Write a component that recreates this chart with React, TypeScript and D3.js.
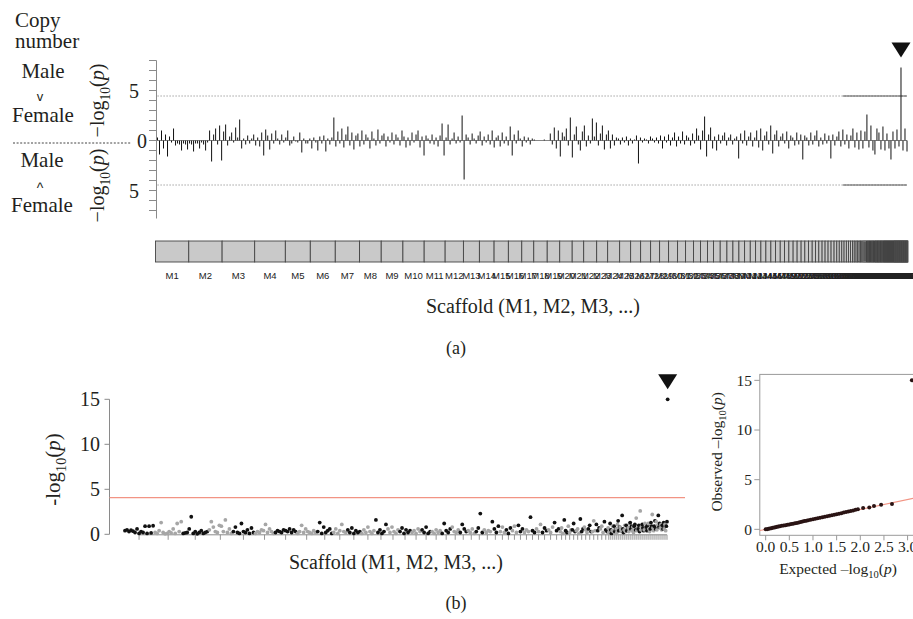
import React from 'react';
import * as d3 from 'd3';

// ---------- Panel (a): copy-number association ----------
const scaffoldLengths: number[] = [
  33.3, 33.4, 32.6, 30.7, 25, 25, 24.3, 21.7, 21.7, 21.3, 21, 18.3, 16, 14.7, 14.3, 13.4,
  12, 13.5, 12.5, 12.5, 11.5, 13, 11, 12, 11, 10, 10, 9, 9, 9, 8, 8, 7, 7, 6,
  6.7, 6.7, 6, 6, 5.7, 5.7, 5.3, 5.3, 5, 5, 4.7, 4.7, 4.3, 4.3, 4.3, 4, 4, 3.7, 3.7, 3.7, 3.3, 3.3, 3.3, 3, 3, 3, 3, 2.7,
  2.5, 2.5, 2.3, 2.3, 2.1, 2, 2, 1.8, 1.8, 1.6, 1.5, 1.4, 1.3, 1.2, 1.1, 1, 1, 0.9,
  0.8, 0.8, 0.8, 0.8, 0.8, 0.8, 0.8, 0.8, 0.8, 0.8,
  0.6, 0.6, 0.6, 0.6, 0.6, 0.6, 0.6, 0.6, 0.6, 0.6, 0.6, 0.6, 0.6, 0.6, 0.6,
  0.5, 0.5, 0.5, 0.5, 0.5, 0.5, 0.5, 0.5, 0.5, 0.5, 0.5, 0.5, 0.5, 0.5, 0.5, 0.5, 0.5, 0.5, 0.5, 0.5,
  0.4, 0.4, 0.4, 0.4, 0.4, 0.4, 0.4, 0.4, 0.4, 0.4, 0.4, 0.4, 0.4, 0.4, 0.4, 0.4, 0.4, 0.4, 0.4, 0.4,
  0.4, 0.4, 0.4, 0.4, 0.4, 0.4, 0.4, 0.4, 0.4, 0.4, 0.4, 0.4, 0.4, 0.4, 0.4,
];

// signed -log10(p): positive = Male > Female, negative = Male < Female
const spikeValues: (number | null)[] = [
  0.3, -1.4, 1.0, -0.8, 0.6, -1.6, 0.4, -0.2, 1.2, -0.5, -0.3, -0.4, -1.0, -0.3, -0.4, -0.9, -0.3, -0.4, -1.1, -0.3, -0.3, -0.8, -0.2, -0.4, -1.0,
  -0.2, 1.0, -2.1, 0.6, 1.2, -0.4, 1.5, -2.0, 0.9, 1.6, -0.5, 0.4, 0.8, -0.2, 1.3, 0.3, 2.1, -0.8, 0.2, -0.4, 0.5, -0.3, 0.2, 0.6, -0.5,
  0.3, -0.6, 0.8, -1.5, 1.1, 0.5, -0.9, 0.7, -0.3, 1.0, 0.2, -0.4, 0.6, -0.2, 0.3, 1.0, -0.5, -0.3, 0.4, -0.1, -0.2, 0.8, -1.2, 0.2, -0.3,
  -0.3, 0.2, -0.8, 0.3, -0.2, -1.0, 0.4, -0.3, 0.5, -1.1, 0.2, -0.4, 0.3, 2.3, -0.6, 0.9, -0.3, 1.2, -0.7, 0.6, 1.4, -0.5, 0.8, -0.9, 0.5,
  0.7, -0.6, 1.0, -0.4, 0.6, 0.3, -0.8, 0.9, 0.2, -0.5, 1.1, -0.3, 0.5, 0.7, -0.6, 0.4, -0.2, 0.8, -0.4, 0.6, 0.3, -0.5, 1.0, 0.4, -0.7,
  0.3, -0.5, 0.8, -0.2, 0.6, 1.0, -0.7, 0.4, -1.5, 0.5, 0.2, -0.3, 0.6, -0.4, 0.3, -0.6, 0.5, 1.7, -1.5, 0.3, 1.6, -0.4, 0.2, 0.8, -0.3,
  0.4, -0.2, 2.5, -3.9, 0.6, 0.3, -0.4, 0.7, 0.2, -0.3, 0.5, 0.9, -0.5, 0.4, -0.2, 0.6, -0.4, 1.0, -0.7, 0.3, 0.5, -0.6, 0.8, -0.3, 0.4,
  -0.5, 1.4, -1.5, 0.6, -0.3, 1.0, 0.2, -0.6, 0.4, -0.2, 0.3, -0.4, 0.2, 0.1, null, null, null, null, 0.1, null, null, 0.7, -0.4, 1.3, -0.8,
  1.0, -1.6, 0.8, 0.4, 1.2, -0.5, 2.3, -1.7, 0.6, 1.4, -0.4, -1.0, 0.9, 1.5, -0.6, 0.5, -0.3, 2.2, 0.4, 1.8, -0.5, 0.7, 1.5, -0.9, 0.6,
  1.0, -0.8, 0.6, -0.5, 0.3, 0.2, -0.4, 0.3, -0.2, 0.4, -0.5, 0.2, -0.3, 0.1, 0.5, -2.3, 0.3, -0.2, 0.2, 0.1, -0.3, 0.4, 0.2, -0.2, 0.3,
  -0.3, 0.5, -0.8, 0.4, -0.2, 0.6, -0.5, 0.3, 0.8, -0.6, 0.4, -0.3, 0.9, -0.4, 0.5, 0.3, -0.5, 0.7, -0.3, 1.2, 0.5, -0.9, 1.0, 2.4, -1.6,
  0.6, 1.3, -0.8, 0.4, -1.0, 0.6, -0.3, 0.5, 0.8, -0.5, 0.3, 0.6, -0.4, 0.2, 0.4, -1.8, 0.7, -0.3, 1.0, -0.5, 0.4, 0.8, -0.6, 0.3, 1.0,
  -0.7, 1.2, -1.0, 0.5, 0.9, -0.4, 1.5, -1.3, 0.6, 1.0, -0.6, 0.4, 0.7, -0.3, 0.9, -0.8, 0.5, 0.3, -0.5, 0.8, -0.4, 0.6, -1.9, 0.5, 0.3,
  -0.5, 0.8, -0.4, 0.5, 1.0, -0.6, 0.3, -0.4, 0.7, -0.3, 0.5, -1.8, 0.6, -0.5, 0.4, 0.9, -0.6, 1.1, -0.4, 0.6, -0.8, 0.5, 1.2, -0.7, 0.8,
  -0.9, 1.0, -0.8, 0.9, 2.6, -0.7, 1.5, -1.0, -1.4, 1.2, 0.8, -0.9, 1.4, -1.0, 0.7, -0.8, -1.9, 0.9, -0.8, 1.1, -0.6, 7.3, -1.0, 1.2, -1.1,
];
const spikeThreshold = 4.45;
const spikeDenseFrom = 342; // index where threshold dots merge into a solid line
const copyTickValues = [-7, -6, -5, -4, -3, -2, -1, 0, 1, 2, 3, 4, 5, 6, 7, 8];
const copyTickLabels = ['5', '0', '5'];
const copyTickLabelValues = [5, 0, -5];

// ---------- Panel (b): Manhattan plot ----------
const bLengths: number[] = [
  15, 14, 13, 12, 11, 10, 11, 10, 8, 7, 7, 7, 6, 6, 6, 5, 5, 5, 5, 4, 4, 4, 4, 4, 4,
  3, 3, 3, 3, 3, 3, 3, 3, 3, 3,
  2, 2, 2, 2, 2, 2, 2, 2, 2, 2, 2, 2,
  1, 1, 1, 1, 1, 1, 1, 1, 1, 1, 1, 1, 1, 1, 1, 1, 1, 1, 1, 1, 1, 1, 1, 1, 1, 1, 1, 1, 1, 1,
];
const bValues: number[][] = [
  [0.4, 0.5, 0.3, 0.45, 0.35, 0.2, 0.6, 0.1, 0.3, 0.2, 0.9, 0.1, 0.9, 0.15, 0.95],
  [0.2, 0.1, 0.4, 1.3, 0.2, 0.05, 0.1, 0.3, 0.15, 0.6, 0.1, 1.2, 0.3, 1.4],
  [0.1, 0.15, 0.2, 0.6, 1.95, 0.1, 0.3, 0.05, 0.2, 0.4, 0.1, 0.2, 0.3],
  [0.5, 1.4, 0.8, 0.3, 0.2, 1.0, 0.9, 0.3, 1.6, 0.2, 0.6, 0.1],
  [0.3, 0.8, 0.2, 0.1, 1.2, 0.3, 0.2, 0.5, 0.1, 0.7, 0.2],
  [0.1, 0.3, 0.2, 0.5, 0.4, 1.1, 0.2, 0.6, 0.3, 0.1],
  [0.2, 0.4, 0.3, 0.2, 0.5, 0.4, 0.3, 0.6, 0.2, 0.5, 0.3],
  [0.1, 0.3, 1.0, 0.2, 0.6, 0.3, 0.2, 0.1, 0.4, 0.2],
  [0.3, 1.3, 0.1, 0.8, 0.2, 0.4, 0.6, 0.1],
  [0.2, 0.6, 0.1, 0.4, 1.1, 0.3, 0.2],
  [0.5, 0.2, 0.7, 0.1, 0.4, 0.2, 0.3],
  [0.1, 0.5, 0.2, 0.8, 0.3, 0.1, 0.4],
  [1.6, 0.2, 0.5, 0.1, 0.3, 1.1],
  [0.6, 0.2, 0.8, 0.3, 0.1, 0.5],
  [0.3, 0.7, 0.1, 0.5, 0.2, 0.4],
  [0.2, 0.4, 0.1, 0.6, 0.3],
  [0.5, 0.2, 0.8, 0.1, 0.3],
  [0.3, 0.1, 0.5, 0.2, 0.4],
  [0.1, 1.2, 0.4, 0.2, 0.6],
  [0.8, 0.3, 0.2, 0.5],
  [0.2, 1.1, 0.6, 0.3],
  [0.4, 0.2, 0.6, 0.1],
  [0.3, 0.7, 2.3, 0.2],
  [0.5, 0.2, 0.4, 0.3],
  [1.4, 0.6, 0.2, 0.9],
  [0.3, 0.8, 0.2], [0.5, 0.1, 0.7], [0.4, 0.9, 0.2], [1.0, 0.3, 0.6], [0.2, 0.5, 0.3],
  [1.9, 0.4, 0.2], [0.6, 0.3, 1.1], [0.2, 0.7, 0.4], [0.5, 0.2, 0.8], [1.3, 0.4, 0.6],
  [0.3, 0.7, 0.1], [1.6, 0.4, 0.2], [0.9, 0.2, 0.5], [0.5, 1.2, 0.3], [0.4, 0.6, 0.1], [1.7, 0.3, 0.6],
  [0.8, 0.5, 0.2], [0.6, 1.0, 0.3], [0.3, 1.5, 0.4], [1.1, 0.4, 0.7], [0.6, 0.9, 0.2], [1.4, 0.5, 0.3],
  [0.7, 0.2, 0.4], [1.2, 0.5, 0.1], [0.4, 0.9, 0.3], [0.9, 0.3, 0.6], [0.6, 0.2, 1.1], [1.5, 0.4, 0.8],
  [0.8, 0.5, 0.3], [2.1, 0.6, 0.2], [0.5, 1.0, 0.3], [1.0, 0.4, 0.7], [0.7, 0.3, 1.2], [1.3, 0.6, 0.9],
  [0.4, 0.8, 0.2], [0.9, 1.1, 0.5], [1.8, 0.4, 0.7], [0.6, 1.0, 0.3], [2.6, 0.5, 0.9], [1.1, 0.7, 0.4],
  [0.5, 1.2, 0.8], [0.8, 0.4, 1.0], [1.2, 0.6, 0.3], [0.6, 1.3, 0.9], [2.2, 0.7, 0.4], [0.9, 1.5, 0.6],
  [1.4, 0.5, 1.0], [2.1, 0.8, 1.2], [0.7, 1.1, 0.5], [1.0, 0.6, 1.3], [0.6, 1.1, 0.4], [0.9, 1.4, 15.0],
];
const bThreshold = 4.07;
const bYTicks = [0, 5, 10, 15];

// ---------- Panel (b) right: QQ plot ----------
const qqExpected = [
  0.00, 0.03, 0.06, 0.09, 0.12, 0.15, 0.18, 0.21, 0.24, 0.27, 0.30, 0.34, 0.38, 0.42, 0.46, 0.50, 0.54, 0.58,
  0.62, 0.66, 0.70, 0.74, 0.78, 0.82, 0.86, 0.90, 0.95, 1.00, 1.05, 1.10, 1.15, 1.20, 1.25, 1.30, 1.35, 1.40,
  1.45, 1.50, 1.55, 1.60, 1.65, 1.70, 1.75, 1.80, 1.85, 1.90, 1.95, 2.06, 2.19, 2.29, 2.44, 2.67, 3.09,
];
const qqObserved = [
  0.00, 0.02, 0.05, 0.09, 0.12, 0.16, 0.19, 0.22, 0.25, 0.28, 0.31, 0.35, 0.38, 0.42, 0.45, 0.49, 0.53, 0.57,
  0.61, 0.65, 0.70, 0.74, 0.78, 0.83, 0.87, 0.91, 0.96, 1.01, 1.06, 1.11, 1.16, 1.21, 1.27, 1.32, 1.37, 1.42,
  1.48, 1.53, 1.58, 1.63, 1.69, 1.74, 1.79, 1.84, 1.90, 1.96, 2.02, 2.14, 2.20, 2.34, 2.47, 2.56, 15.0,
];
const qqXTicks = [0, 0.5, 1, 1.5, 2, 2.5, 3];
const qqYTicks = [0, 5, 10, 15];

const SERIF = "'Liberation Serif', 'DejaVu Serif', serif";
const SANS = "'Liberation Sans', Arial, sans-serif";
const INK = '#231f20';
const RED = '#f29484';

function LogLabel({ x, y, size, prefix, dash }: { x: number; y: number; size: number; prefix?: string; dash: string }) {
  const sub = size * 0.68;
  const shift = size * 0.28;
  return (
    <text transform={`translate(${x},${y}) rotate(-90)`} textAnchor="middle" fontFamily={SERIF} fontSize={size} fill={INK}>
      {prefix ?? ''}{dash}log
      <tspan fontSize={sub} dy={shift}>10</tspan>
      <tspan dy={-shift}>(</tspan>
      <tspan fontStyle="italic">p</tspan>)
    </text>
  );
}

export default function App() {
  const W = 913;
  const H = 619;

  // ----- Panel a scales -----
  const aY = d3.scaleLinear().domain([-7.8, 8]).range([218.5, 60.5]);
  const aX = d3.scaleLinear().domain([0, spikeValues.length - 1]).range([157.5, 907]);
  const aAxisX = 156.5;
  let peakIdx = 0;
  spikeValues.forEach((v, i) => {
    if (v !== null && v > (spikeValues[peakIdx] as number)) peakIdx = i;
  });
  const peakX = aX(peakIdx);
  const peakY = aY(spikeValues[peakIdx] as number);

  const cum = d3.cumsum(scaffoldLengths);
  const total = cum[cum.length - 1];
  const barX = d3.scaleLinear().domain([0, total]).range([155.5, 908]);
  const barTop = 241;
  const barH = 21;
  const scaffolds = scaffoldLengths.map((len, i) => {
    const end = cum[i];
    const start = end - len;
    return { name: `M${i + 1}`, x0: barX(start), x1: barX(end) };
  });

  // ----- Panel b scales -----
  const bY = d3.scaleLinear().domain([0, 15]).range([534.3, 399.3]);
  const bCum = d3.cumsum(bLengths);
  const bTotal = bCum[bCum.length - 1];
  const bX = d3.scaleLinear().domain([0, bTotal]).range([124, 668]);
  const bLeft = 109.5;
  const bRight = 685;
  const bPoints: { x: number; y: number; c: string; v: number }[] = [];
  const bTickXs: number[] = [];
  bLengths.forEach((len, s) => {
    const start = bCum[s] - len;
    bTickXs.push(bX(start + len / 2));
    const vals = bValues[s];
    vals.forEach((v, k) => {
      bPoints.push({ x: bX(start + ((k + 0.5) * len) / vals.length), y: bY(v), v, c: s % 2 === 0 ? '#111' : '#a6a6a6' });
    });
  });
  const bTop = bPoints.reduce((a, p) => (p.v > a.v ? p : a), bPoints[0]);

  // ----- QQ scales -----
  const qx = d3.scaleLinear().domain([-0.124, 3.22]).range([759.8, 918]);
  const qy = d3.scaleLinear().domain([-0.6, 15.6]).range([535.3, 374.4]);

  const tri = (x: number, y: number) => `M${x - 9.5},${y - 25}L${x + 9.5},${y - 25}L${x},${y - 10}Z`;

  return (
    <svg width={W} height={H} style={{ position: 'absolute', left: 0, top: 0, background: '#fff' }}>
      <defs>
        <clipPath id="qqclip">
          <rect x={qx(-0.124)} y={qy(15.6)} width={qx(3.22) - qx(-0.124)} height={qy(-0.6) - qy(15.6)} />
        </clipPath>
      </defs>
      <rect width={W} height={H} fill="#fff" />

      {/* ===== Panel (a) ===== */}
      <g fontFamily={SERIF} fill={INK}>
        <text x={15} y={27} fontSize={21}>Copy</text>
        <text x={15} y={48} fontSize={21}>number</text>
        <text x={43} y={78} fontSize={21} textAnchor="middle">Male</text>
        <text x={40} y={101} fontSize={13} textAnchor="middle" fontFamily={SANS}>v</text>
        <text x={43} y={122} fontSize={21} textAnchor="middle">Female</text>
        <text x={42} y={167} fontSize={21} textAnchor="middle">Male</text>
        <text x={40} y={193} fontSize={14} textAnchor="middle" fontFamily={SANS}>^</text>
        <text x={42} y={212} fontSize={21} textAnchor="middle">Female</text>
      </g>
      <line x1={13} x2={131} y1={aY(0) + 2.5} y2={aY(0) + 2.5} stroke="#444" strokeDasharray="2,1.6" strokeWidth={1} />
      <LogLabel x={104} y={aY(4)} size={20} dash="−" />
      <LogLabel x={104} y={aY(-4.5)} size={20} dash="−" />

      {/* y axis */}
      <line x1={aAxisX} x2={aAxisX} y1={aY(-7.8)} y2={aY(8)} stroke="#8a8a8a" strokeWidth={1} />
      {copyTickValues.map((t) => (
        <line key={t} x1={aAxisX - 7.5} x2={aAxisX} y1={aY(t)} y2={aY(t)} stroke="#8a8a8a" strokeWidth={1} />
      ))}
      {copyTickLabelValues.map((t, i) => (
        <text key={i} x={t === 0 ? 147 : 139} y={aY(t)} dy="0.35em" textAnchor="end" fontFamily={SERIF} fontSize={20} fill={INK}>
          {copyTickLabels[i]}
        </text>
      ))}

      {/* thresholds */}
      {[spikeThreshold, -spikeThreshold].map((t) => (
        <g key={t}>
          <line x1={aX(0)} x2={aX(spikeValues.length - 1)} y1={aY(t)} y2={aY(t)} stroke="#8c8c8c" strokeWidth={1} strokeDasharray="1.2,1.8" />
          <line x1={aX(spikeDenseFrom)} x2={aX(spikeValues.length - 1)} y1={aY(t)} y2={aY(t)} stroke="#555" strokeWidth={1} />
        </g>
      ))}

      {/* spikes */}
      <g stroke="#111" strokeWidth={1}>
        {spikeValues.map((v, i) =>
          v === null ? null : <line key={i} x1={aX(i)} x2={aX(i)} y1={aY(0)} y2={aY(v)} />
        )}
      </g>
      <line x1={aX(0)} x2={aX(spikeValues.length - 1)} y1={aY(0)} y2={aY(0)} stroke="#333" strokeWidth={0.6} />
      <path d={tri(peakX, peakY)} fill="#111" />

      {/* scaffold bar */}
      <g>
        {scaffolds.map((s) => (
          <rect key={s.name} x={s.x0} y={barTop} width={Math.max(0.01, s.x1 - s.x0)} height={barH} fill="#c9c9c9" stroke="#444" strokeWidth={0.9} />
        ))}
        {scaffolds.map((s) => (
          <text key={s.name} x={(s.x0 + s.x1) / 2} y={278.5} textAnchor="middle" fontFamily={SANS} fontSize={9.5} fill="#222">
            {s.name}
          </text>
        ))}
      </g>
      <text x={533} y={313} textAnchor="middle" fontFamily={SERIF} fontSize={20} fill={INK}>Scaffold (M1, M2, M3, ...)</text>
      <text x={456} y={354} textAnchor="middle" fontFamily={SERIF} fontSize={18} fill={INK}>(a)</text>

      {/* ===== Panel (b) Manhattan ===== */}
      <line x1={bLeft} x2={bLeft} y1={bY(0)} y2={bY(15)} stroke="#8a8a8a" strokeWidth={1} />
      {bYTicks.map((t) => (
        <g key={t}>
          <line x1={bLeft - 5} x2={bLeft} y1={bY(t)} y2={bY(t)} stroke="#8a8a8a" strokeWidth={1} />
          <text x={100} y={bY(t)} dy="0.35em" textAnchor="end" fontFamily={SERIF} fontSize={20} fill={INK}>{t}</text>
        </g>
      ))}
      <LogLabel x={60} y={bY(7.2)} size={21} dash="-" />
      <line x1={bLeft} x2={bRight} y1={bY(bThreshold)} y2={bY(bThreshold)} stroke={RED} strokeWidth={1.2} />
      <line x1={bTickXs[0]} x2={bTickXs[bTickXs.length - 1]} y1={bY(0) + 0.5} y2={bY(0) + 0.5} stroke="#8a8a8a" strokeWidth={1} />
      {bTickXs.map((x, i) => (
        <line key={i} x1={x} x2={x} y1={bY(0) + 0.5} y2={bY(0) + 5.5} stroke="#8a8a8a" strokeWidth={0.9} />
      ))}
      {bPoints.map((p, i) => (
        <circle key={i} cx={p.x} cy={p.y} r={1.9} fill={p.c} />
      ))}
      <path d={tri(bTop.x, bTop.y)} fill="#111" />
      <text x={396} y={569} textAnchor="middle" fontFamily={SERIF} fontSize={20} fill={INK}>Scaffold (M1, M2, M3, ...)</text>
      <text x={456} y={609} textAnchor="middle" fontFamily={SERIF} fontSize={18} fill={INK}>(b)</text>

      {/* ===== QQ plot ===== */}
      <rect x={qx(-0.124)} y={qy(15.6)} width={qx(3.22) - qx(-0.124)} height={qy(-0.6) - qy(15.6)} fill="none" stroke="#9a9a9a" strokeWidth={1} />
      <g clipPath="url(#qqclip)">
        <line x1={qx(-0.124)} y1={qy(-0.124)} x2={qx(3.22)} y2={qy(3.22)} stroke={RED} strokeWidth={1.1} />
        {qqExpected.map((e, i) => (
          <circle key={i} cx={qx(e)} cy={qy(qqObserved[i])} r={2} fill="#2a1414" />
        ))}
      </g>
      {qqYTicks.map((t) => (
        <g key={t}>
          <line x1={qx(-0.124) - 5.5} x2={qx(-0.124)} y1={qy(t)} y2={qy(t)} stroke="#9a9a9a" strokeWidth={1} />
          <text x={752} y={qy(t)} dy="0.35em" textAnchor="end" fontFamily={SERIF} fontSize={15.5} fill={INK}>{t}</text>
        </g>
      ))}
      {qqXTicks.map((t) => (
        <g key={t}>
          <line x1={qx(t)} x2={qx(t)} y1={qy(-0.6)} y2={qy(-0.6) + 5} stroke="#9a9a9a" strokeWidth={1} />
          <text x={qx(t)} y={552} textAnchor="middle" fontFamily={SERIF} fontSize={15.5} fill={INK}>{t.toFixed(1)}</text>
        </g>
      ))}
      <LogLabel x={722} y={qy(7.8)} size={15.5} prefix="Observed " dash="–" />
      <text x={838} y={574} textAnchor="middle" fontFamily={SERIF} fontSize={15.5} fill={INK}>
        Expected –log<tspan fontSize={10.5} dy={4}>10</tspan><tspan dy={-4}>(</tspan><tspan fontStyle="italic">p</tspan>)
      </text>
    </svg>
  );
}
